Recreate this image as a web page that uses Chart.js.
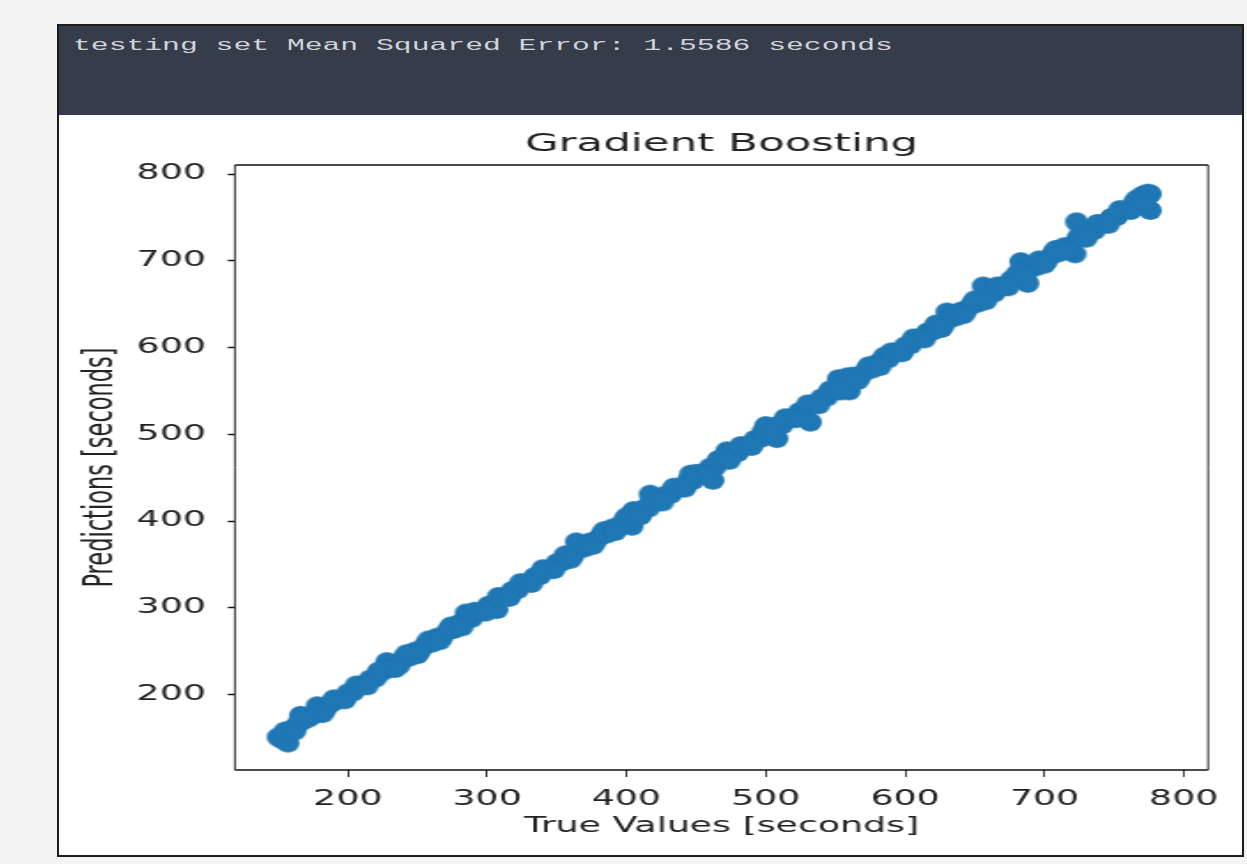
<!DOCTYPE html>
<html>
<head>
<meta charset="utf-8">
<title>Gradient Boosting</title>
<script src="https://cdn.jsdelivr.net/npm/chart.js@4/dist/chart.umd.min.js"></script>
<style>
  html, body { margin: 0; padding: 0; background: #f4f4f4; overflow: hidden; }
  body { width: 1247px; height: 864px; position: relative; }
  #card {
    position: absolute; left: 57px; top: 24px; width: 1187px; height: 833px;
    box-sizing: border-box; border: 2px solid #1c1c1c; background: #ffffff;
  }
  #header {
    position: absolute; left: 0; top: 0; right: 0; height: 89px; background: #363d4a;
  }
  #header span {
    position: absolute; left: 14px; top: 10px; line-height: 20px;
    font-family: "Liberation Mono", "DejaVu Sans Mono", monospace; font-size: 16.8px;
    color: #d0d4d9; white-space: pre; transform: scaleX(1.77); transform-origin: 0 50%;
  }
  #plotWrap {
    position: absolute; left: 59px; top: 116px; width: 669px; height: 739px;
    transform: scaleX(1.77); transform-origin: 0 0;
  }
</style>
</head>
<body>
<div id="card">
  <div id="header"><span>testing set Mean Squared Error: 1.5586 seconds</span></div>
</div>
<div id="plotWrap"><canvas id="plot" width="669" height="739"></canvas></div>
<script>
// Test-set true durations and the model's predictions (seconds)
const trueValues = [
  150, 153, 157, 160, 164, 166, 168, 172, 176, 178, 180, 184, 188, 192, 196,
  200, 204, 208, 212, 216, 220, 224, 228, 228, 232, 237, 240, 244, 248, 252,
  256, 260, 264, 268, 272, 276, 280, 285, 285, 289, 293, 297, 301, 305, 307,
  310, 314, 318, 322, 326, 330, 334, 338, 342, 346, 350, 354, 358, 362, 364,
  366, 370, 374, 378, 382, 386, 390, 394, 398, 402, 404, 405, 408, 412, 416,
  417, 420, 424, 428, 432, 436, 440, 444, 446, 448, 452, 456, 460, 462, 464,
  468, 472, 472, 476, 480, 484, 488, 492, 496, 500, 500, 504, 508, 508, 512,
  516, 520, 524, 528, 532, 532, 536, 540, 544, 548, 552, 552, 556, 558, 560,
  564, 568, 572, 576, 580, 585, 588, 592, 596, 600, 604, 608, 612, 616, 620,
  624, 628, 630, 632, 636, 640, 644, 648, 652, 656, 656, 660, 664, 668, 672,
  676, 680, 683, 688, 690, 694, 698, 702, 706, 710, 714, 718, 722, 723, 724,
  728, 732, 736, 740, 744, 748, 752, 756, 760, 764, 768, 770, 772, 774, 776,
  776,
  155, 162, 170, 182, 190, 198, 206, 214, 222, 234, 242, 250, 258, 266, 274,
  282, 291, 299, 308, 316, 324, 332, 340, 348, 356, 360, 368, 376, 384, 392,
  400, 410, 418, 426, 434, 442, 450, 458, 466, 474, 482, 490, 498, 506, 514,
  522, 530, 538, 546, 554, 562, 566, 574, 582, 590, 598, 606, 614, 622, 626,
  634, 642, 650, 658, 666, 674, 682, 686, 696, 700, 708, 716, 726, 730, 738,
  746, 754, 762, 766, 772
];
const predictions = [
  151, 148, 144, 160, 166, 176, 170, 173, 177, 187, 181, 183, 190, 193, 195,
  202, 203, 210, 211, 218, 219, 226, 238, 229, 231, 234, 242, 243, 250, 251,
  258, 259, 266, 267, 274, 275, 282, 294, 286, 288, 295, 296, 303, 304, 298,
  312, 313, 320, 321, 328, 329, 336, 337, 344, 345, 352, 353, 360, 361, 376,
  368, 369, 376, 377, 384, 385, 392, 393, 400, 401, 394, 412, 409, 414, 415,
  431, 422, 423, 430, 431, 438, 439, 446, 454, 447, 454, 455, 462, 447, 463,
  470, 481, 471, 478, 479, 486, 487, 494, 495, 510, 502, 503, 495, 510, 511,
  518, 519, 526, 527, 514, 534, 535, 542, 543, 550, 564, 551, 558, 566, 550,
  566, 567, 574, 575, 582, 590, 587, 594, 595, 602, 603, 610, 611, 618, 619,
  626, 627, 641, 634, 635, 642, 643, 650, 651, 671, 657, 662, 663, 670, 671,
  678, 684, 699, 674, 692, 693, 700, 701, 708, 709, 716, 717, 708, 745, 726,
  727, 734, 735, 742, 743, 750, 751, 758, 759, 766, 767, 775, 776, 778, 758,
  777,
  158, 158, 175, 178, 195, 194, 211, 210, 227, 230, 247, 246, 263, 262, 279,
  278, 296, 295, 313, 312, 329, 328, 345, 344, 361, 356, 373, 372, 389, 388,
  405, 406, 423, 422, 439, 438, 455, 454, 471, 470, 487, 486, 503, 502, 519,
  518, 535, 534, 551, 550, 567, 562, 579, 578, 595, 594, 611, 610, 627, 622,
  639, 638, 655, 654, 671, 670, 687, 682, 701, 696, 713, 712, 731, 726, 743,
  742, 759, 758, 771, 768
];
const xTickValues = [200, 300, 400, 500, 600, 700, 800];
const yTickValues = [200, 300, 400, 500, 600, 700, 800];

const SX = 1.77;            // horizontal stretch applied to the drawing
const BLUE = '#1f77b4';
const TEXT = '#222222';

// Round scatter marker, pre-narrowed so it stays round-ish after the stretch
function makeMarker(wScreen, hScreen) {
  const rx = wScreen / 2 / SX, ry = hScreen / 2;
  const c = document.createElement('canvas');
  c.width = Math.ceil(rx * 2) + 2;
  c.height = Math.ceil(ry * 2) + 2;
  const g = c.getContext('2d');
  g.fillStyle = BLUE;
  g.beginPath();
  g.ellipse(c.width / 2, c.height / 2, rx, ry, 0, 0, Math.PI * 2);
  g.fill();
  return c;
}
const marker = makeMarker(23, 19);

// Axes box on all four sides
const frame = {
  id: 'frame',
  afterDatasetsDraw(chart) {
    const { ctx, chartArea: a } = chart;
    ctx.save();
    ctx.strokeStyle = '#111111';
    ctx.lineWidth = 1.6;
    ctx.beginPath();
    ctx.moveTo(a.left, a.top); ctx.lineTo(a.right, a.top);
    ctx.moveTo(a.left, a.bottom); ctx.lineTo(a.right, a.bottom);
    ctx.stroke();
    ctx.lineWidth = 1.6 / SX;
    ctx.beginPath();
    ctx.moveTo(a.left, a.top); ctx.lineTo(a.left, a.bottom);
    ctx.moveTo(a.right, a.top); ctx.lineTo(a.right, a.bottom);
    ctx.stroke();
    ctx.restore();
  }
};

const points = trueValues.map((t, i) => ({ x: t, y: predictions[i] }));

new Chart(document.getElementById('plot'), {
  type: 'scatter',
  data: {
    datasets: [{
      data: points,
      pointStyle: marker,
      pointRadius: 10,
      pointHoverRadius: 10,
      backgroundColor: BLUE,
      borderWidth: 0
    }]
  },
  options: {
    responsive: false,
    animation: false,
    events: [],
    layout: { padding: { left: 0, right: 19.8, top: 0, bottom: 0 } },
    plugins: {
      legend: { display: false },
      tooltip: { enabled: false },
      title: {
        display: true,
        text: 'Gradient Boosting',
        fullSize: false,
        color: TEXT,
        font: { family: 'DejaVu Sans', size: 24.6, weight: 'normal', lineHeight: 1.2 },
        padding: { top: 13.5, bottom: 6 }
      }
    },
    scales: {
      x: {
        type: 'linear',
        min: 119,
        max: 817.5,
        afterBuildTicks: (axis) => { axis.ticks = xTickValues.map(v => ({ value: v })); },
        afterFit: (axis) => { axis.height = 85; },
        border: { display: false },
        grid: {
          drawOnChartArea: false, drawTicks: true, tickLength: 7,
          tickColor: '#111111', tickWidth: 1.5 / SX
        },
        ticks: {
          color: TEXT, padding: 10, maxRotation: 0,
          font: { family: 'DejaVu Sans', size: 20.5 },
          callback: (v) => String(v)
        },
        title: {
          display: true, text: 'True Values [seconds]', color: TEXT,
          font: { family: 'DejaVu Sans', size: 20.5, lineHeight: 1.2 },
          padding: { top: 0, bottom: 15.7 }
        }
      },
      y: {
        type: 'linear',
        min: 113,
        max: 810.4,
        afterBuildTicks: (axis) => { axis.ticks = yTickValues.map(v => ({ value: v })); },
        afterFit: (axis) => { axis.width = 99.4; },
        border: { display: false },
        grid: {
          drawOnChartArea: false, drawTicks: true, tickLength: 4,
          tickColor: '#111111', tickWidth: 1.5
        },
        ticks: {
          color: TEXT, padding: 12.4,
          font: { family: 'DejaVu Sans', size: 20.5 },
          callback: (v) => String(v)
        },
        title: {
          display: true, text: 'Predictions [seconds]', color: TEXT,
          font: { family: 'DejaVu Sans', size: 22.5, lineHeight: 1.2 },
          padding: { top: 10.8, bottom: 0 }
        }
      }
    }
  },
  plugins: [frame]
});
</script>
</body>
</html>
